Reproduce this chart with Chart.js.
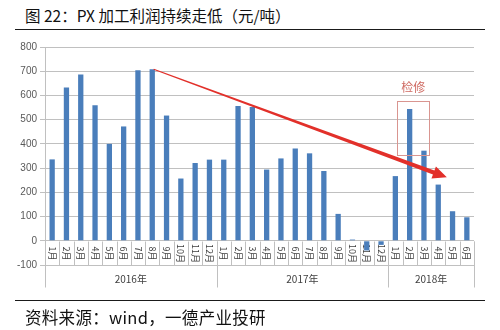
<!DOCTYPE html>
<html>
<head>
<meta charset="utf-8">
<script src="https://cdn.jsdelivr.net/npm/chart.js@4"></script>
<style>
  body { margin: 0; width: 500px; height: 330px; background: #fff; position: relative; overflow: hidden; font-family: "Noto Sans CJK SC", sans-serif; }
  #chart { position: absolute; left: 0; top: 0; }
  .caption { position: absolute; left: 25px; color: #111; line-height: 21px; white-space: nowrap; }
  #title { top: 5px; font-size: 15.5px; }
  #source { top: 307px; font-size: 16.5px; letter-spacing: 0.3px; }
  .rule { position: absolute; left: 15px; width: 470px; border-top: 1.5px solid #1a1a1a; }
</style>
</head>
<body>
<div class="caption" id="title">图 22：PX 加工利润持续走低（元/吨）</div>
<div class="rule" style="top:29px"></div>
<canvas id="chart" width="500" height="330"></canvas>
<div class="rule" style="top:300px"></div>
<div class="caption" id="source">资料来源：wind，一德产业投研</div>

<script>
const monthLabels = [
  "1月", "2月", "3月", "4月", "5月", "6月", "7月", "8月", "9月", "10月", "11月", "12月",
  "1月", "2月", "3月", "4月", "5月", "6月", "7月", "8月", "9月", "10月", "11月", "12月",
  "1月", "2月", "3月", "4月", "5月", "6月",
];
const yearLabels = ["2016年", "2017年", "2018年"];
const monthsPerYear = [12, 12, 6];

// PX processing margin, yuan per tonne
const pxMargin = [
  336, 633, 686, 560, 400, 472, 704, 708, 517, 257, 321, 335,
  335, 556, 552, 294, 340, 381, 361, 288, 111, 5, -40, -17,
  267, 544, 372, 232, 122, 97,
];

const yMin = -100;
const yMax = 800;
const yStep = 100;

// trend arrow and maintenance box, in (category index, value)
const trendFrom = [7.1, 708];
const trendTo = [27.6, 262];
const overhaulBox = [24.15, 576, 26.35, 356];
const overhaulText = "检修";
const overhaulTextAt = [25.25, 631];

const gridColor = "#c0c0c0";
const labelColor = "#404040";

const categoryAxis = {
  id: "categoryAxis",
  beforeDatasetsDraw(chart) {
    const { ctx, scales: { x, y } } = chart;
    const y0 = Math.round(y.getPixelForValue(0)) + 0.5;
    const monthBottom = Math.round(y.getPixelForValue(yMin)) + 0.5;
    const yearBottom = monthBottom + 22;
    const left = Math.round(x.getPixelForValue(-0.5)) + 0.5;

    ctx.save();
    ctx.strokeStyle = gridColor;
    ctx.lineWidth = 1;

    // y axis line runs down through the year row
    ctx.beginPath();
    ctx.moveTo(left, y.getPixelForValue(yMax));
    ctx.lineTo(left, yearBottom);
    ctx.stroke();

    // month cell dividers
    for (let i = 0; i <= monthLabels.length; i++) {
      const px = Math.round(x.getPixelForValue(i - 0.5)) + 0.5;
      ctx.beginPath();
      ctx.moveTo(px, y0);
      ctx.lineTo(px, monthBottom);
      ctx.stroke();
    }

    // year dividers and labels
    let start = 0;
    ctx.fillStyle = labelColor;
    ctx.textAlign = "center";
    ctx.textBaseline = "middle";
    ctx.font = '10px "Noto Sans CJK SC"';
    monthsPerYear.forEach((n, k) => {
      const end = start + n;
      const px = Math.round(x.getPixelForValue(end - 0.5)) + 0.5;
      ctx.beginPath();
      ctx.moveTo(px, y0);
      ctx.lineTo(px, yearBottom);
      ctx.stroke();
      const cx = (x.getPixelForValue(start - 0.5) + x.getPixelForValue(end - 0.5)) / 2;
      ctx.fillText(yearLabels[k], cx, monthBottom + 14);
      start = end;
    });

    // month labels, turned to read top-down
    ctx.font = '9px "Noto Sans CJK SC"';
    const my = (y0 + monthBottom) / 2;
    monthLabels.forEach((m, i) => {
      ctx.save();
      ctx.translate(x.getPixelForValue(i), my);
      ctx.rotate(Math.PI / 2);
      ctx.fillText(m, 0, 0);
      ctx.restore();
    });
    ctx.restore();
  },
  afterDatasetsDraw(chart) {
    const { ctx, scales: { x, y } } = chart;
    ctx.save();

    // maintenance box
    const bx1 = Math.round(x.getPixelForValue(overhaulBox[0])) + 0.5;
    const by1 = Math.round(y.getPixelForValue(overhaulBox[1])) + 0.5;
    const bx2 = Math.round(x.getPixelForValue(overhaulBox[2])) + 0.5;
    const by2 = Math.round(y.getPixelForValue(overhaulBox[3])) + 0.5;
    ctx.strokeStyle = "#d99590";
    ctx.lineWidth = 1;
    ctx.strokeRect(bx1, by1, bx2 - bx1, by2 - by1);

    ctx.fillStyle = "#cf6b63";
    ctx.font = '12px "Noto Sans CJK SC"';
    ctx.textAlign = "center";
    ctx.textBaseline = "middle";
    ctx.fillText(overhaulText, x.getPixelForValue(overhaulTextAt[0]), y.getPixelForValue(overhaulTextAt[1]));

    // tapering trend arrow
    const sx = x.getPixelForValue(trendFrom[0]);
    const sy = y.getPixelForValue(trendFrom[1]);
    const ex = x.getPixelForValue(trendTo[0]);
    const ey = y.getPixelForValue(trendTo[1]);
    const len = Math.hypot(ex - sx, ey - sy);
    const head = 14, headHalf = 6.5, neck = 2.1, tail = 0.5;
    ctx.translate(sx, sy);
    ctx.rotate(Math.atan2(ey - sy, ex - sx));
    ctx.fillStyle = "#e2302a";
    ctx.beginPath();
    ctx.moveTo(0, -tail);
    ctx.lineTo(len - head, -neck);
    ctx.lineTo(len - head, -headHalf);
    ctx.lineTo(len, 0);
    ctx.lineTo(len - head, headHalf);
    ctx.lineTo(len - head, neck);
    ctx.lineTo(0, tail);
    ctx.closePath();
    ctx.fill();
    ctx.restore();
  },
};

new Chart(document.getElementById("chart").getContext("2d"), {
  type: "bar",
  data: {
    labels: monthLabels,
    datasets: [{
      data: pxMargin,
      backgroundColor: "#4a7ebb",
      borderWidth: 0,
      barPercentage: 0.37,
      categoryPercentage: 1,
    }],
  },
  options: {
    responsive: false,
    animation: false,
    layout: { padding: { left: 0, top: 47, right: 26, bottom: 65 } },
    plugins: {
      legend: { display: false },
      tooltip: { enabled: false },
    },
    scales: {
      x: { display: false },
      y: {
        min: yMin,
        max: yMax,
        afterFit: (scale) => { scale.width = 45; },
        border: { display: false },
        grid: { color: gridColor, tickLength: 5 },
        ticks: {
          stepSize: yStep,
          padding: 3,
          color: "#595959",
          font: { family: "Liberation Sans", size: 10 },
        },
      },
    },
  },
  plugins: [categoryAxis],
});
</script>
</body>
</html>
